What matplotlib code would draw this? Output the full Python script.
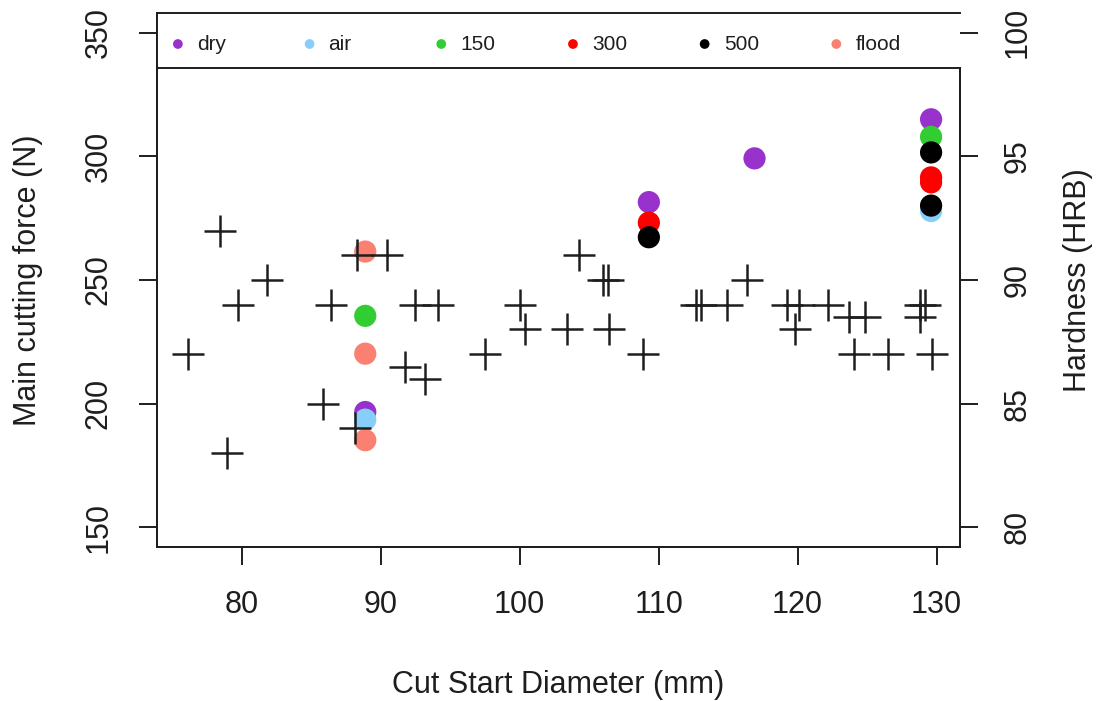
import matplotlib
matplotlib.use("Agg")
import matplotlib.pyplot as plt
from matplotlib.patches import Rectangle
from matplotlib.lines import Line2D

plt.rcParams['font.family'] = ['Liberation Sans', 'DejaVu Sans']

# Main cutting force (N) per cooling condition, against cut start diameter (mm)
series_names = ["dry", "air", "150", "300", "500", "flood"]
series_colors = ["darkorchid", "lightskyblue", "limegreen", "red", "black", "salmon"]

dry_d = [88.9, 109.3, 116.9, 129.6]
dry_f = [196.6, 281.5, 299.2, 315.0]
air_d = [88.9, 129.6]
air_f = [193.5, 277.9]
c150_d = [88.9, 129.6]
c150_f = [235.5, 307.9]
c300_d = [109.3, 129.6, 129.6]
c300_f = [273.2, 291.5, 289.5]
c500_d = [109.3, 129.6, 129.6]
c500_f = [267.3, 301.6, 280.1]
flood_d = [88.9, 88.9, 88.9]
flood_f = [261.5, 220.2, 185.2]

series_d = [dry_d, air_d, c150_d, c300_d, c500_d, flood_d]
series_f = [dry_f, air_f, c150_f, c300_f, c500_f, flood_f]

# Hardness (HRB) against cut start diameter (mm)
hard_d = [76.18, 78.44, 78.92, 79.78, 81.8, 85.84, 86.41, 88.14, 88.29, 90.45,
          91.74, 92.46, 93.18, 94.14, 97.51, 100.0, 100.39, 103.41, 104.28, 106.01,
          106.35, 106.44, 108.89, 112.69, 113.02, 114.94, 116.33, 119.21, 119.84, 120.13,
          122.15, 123.68, 124.03, 124.88, 126.48, 128.78, 128.83, 129.16, 129.65]
hard_v = [87, 92, 83, 89, 90, 85, 89, 84, 91, 91,
          86.5, 89, 86, 89, 87, 89, 88, 88, 91, 90,
          90, 88, 87, 89, 89, 89, 90, 89, 88, 89,
          89, 88.5, 87, 88.5, 87, 88.5, 89, 89, 87]

force_ticks = [150, 200, 250, 300, 350]
hard_ticks = [80, 85, 90, 95, 100]
diam_ticks = [80, 90, 100, 110, 120, 130]

ink = "#1e1e1e"
W, H = 1097, 701
fig = plt.figure(figsize=(W / 100, H / 100), dpi=100)
ax = fig.add_axes([157 / W, 1 - 547 / H, (960 - 157) / W, (547 - 13) / H])

for d, f, c in zip(series_d, series_f, series_colors):
    ax.scatter(d, f, s=16 ** 2, color=c, edgecolors="none", zorder=3)

force_lim = (142, 358)
hard_lim = (79.2, 100.8)
ax.set_xlim(73.92, 131.68)
ax.set_ylim(*force_lim)
ax.set_xticks(diam_ticks)
ax.set_yticks(force_ticks)

ax2 = ax.twinx()
ax2.plot(hard_d, hard_v, linestyle="none", marker="+", markersize=23,
         markeredgewidth=1.8, color=ink, zorder=3)
ax2.set_ylim(*hard_lim)
ax2.set_yticks(hard_ticks)

for a in (ax, ax2):
    for s in a.spines.values():
        s.set_linewidth(1.4)
        s.set_color(ink)
    a.tick_params(direction="out", length=13, width=1.4, color=ink,
                  labelsize=22, labelcolor=ink, pad=18)

ax.tick_params(axis="y", labelrotation=90)
ax2.tick_params(axis="y", labelrotation=90)
for t in ax.get_yticklabels():
    t.set_va("center")
for t in ax2.get_yticklabels():
    t.set_va("center")

ax.set_xlabel("Cut Start Diameter (mm)", fontsize=22, color=ink)
ax.xaxis.set_label_coords(0.5, -0.23)
ax.set_ylabel("Main cutting force (N)", fontsize=22, color=ink)
ax.yaxis.set_label_coords(-0.142, 0.5)
ax2.set_ylabel("Hardness (HRB)", fontsize=22, color=ink)
ax2.yaxis.set_label_coords(1.128, 0.5)

# Legend strip across the top of the plot
box_h = 55 / 534
frac = 1 - box_h
ax.spines["right"].set_bounds(force_lim[0], force_lim[0] + frac * (force_lim[1] - force_lim[0]))
ax2.spines["right"].set_bounds(hard_lim[0], hard_lim[0] + frac * (hard_lim[1] - hard_lim[0]))
ax.spines["top"].set_visible(False)
ax2.spines["top"].set_visible(False)

ax2.add_patch(Rectangle((0, frac), 1, box_h, transform=ax2.transAxes,
                        facecolor="white", edgecolor="none", zorder=10, clip_on=False))
for xs, ys in [([0, 1], [1, 1]), ([0, 1], [frac, frac]), ([0, 0], [frac, 1])]:
    ax2.add_line(Line2D(xs, ys, transform=ax2.transAxes, color=ink, linewidth=1.4,
                        zorder=11, clip_on=False))

leg_y = 1 - 31 / 534
for i, (name, c) in enumerate(zip(series_names, series_colors)):
    x0 = 0.026 + i * 0.164
    ax2.scatter([x0], [leg_y], s=7 ** 2, color=c, edgecolors="none",
                transform=ax2.transAxes, zorder=12, clip_on=False)
    ax2.text(x0 + 0.0237, leg_y, name, transform=ax2.transAxes, fontsize=15,
             color=ink, va="center", ha="left", zorder=12)

fig.savefig("out.png", dpi=100)
